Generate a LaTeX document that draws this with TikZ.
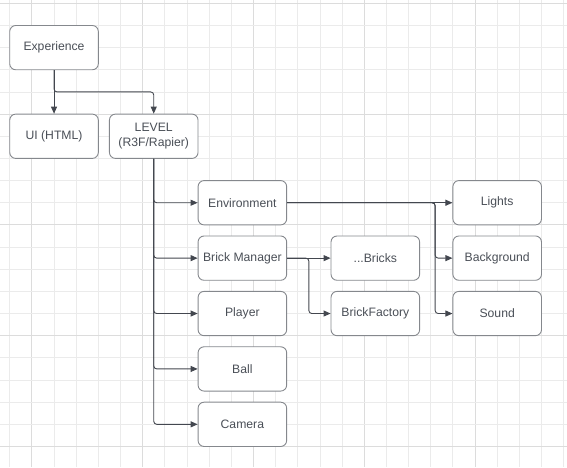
\documentclass[tikz,border=0pt]{standalone}
\usepackage{fontspec}
\setmainfont{Liberation Sans}
\usepackage{tikz}
\usetikzlibrary{arrows.meta}
\usetikzlibrary{positioning}

\definecolor{gridminor}{HTML}{EBEBEB}
\definecolor{gridmajor}{HTML}{DCDCDC}
\definecolor{boxline}{HTML}{85888D}
\definecolor{boxtext}{HTML}{4A4F57}
\definecolor{connline}{HTML}{43474F}

\tikzset{
  block/.style={draw=boxline, line width=0.9pt, fill=white, rounded corners=6pt,
    minimum width=88.6pt, minimum height=44.3pt, inner sep=0pt,
    text=boxtext, align=center, font=\fontsize{12.2}{15}\selectfont},
  conn/.style={draw=connline, line width=0.9pt, rounded corners=3pt,
    -{Triangle[length=7pt,width=6pt]}}
}

\begin{document}
\begin{tikzpicture}[x=22.16pt, y=-22.16pt]
  \useasboundingbox (-0.438,-0.149) rectangle (25.15,20.93);

  % grid
  \foreach \k in {0,...,25} {
    \pgfmathtruncatemacro{\m}{mod(\k,5)}
    \ifnum\m=1
      \draw [gridmajor, line width=0.9pt] (\k,-0.149) -- (\k,20.93);
    \else
      \draw [gridminor, line width=0.8pt] (\k,-0.149) -- (\k,20.93);
    \fi
  }
  \foreach \k in {0,...,20} {
    \pgfmathtruncatemacro{\m}{mod(\k,5)}
    \ifnum\m=0
      \draw [gridmajor, line width=0.9pt] (-0.438,\k) -- (25.15,\k);
    \else
      \draw [gridminor, line width=0.8pt] (-0.438,\k) -- (25.15,\k);
    \fi
  }

  % boxes
  \node [block] (exp) at (2, 2) {Experience};
  \node [block] (ui) at (2, 6) {UI (HTML)};
  \node [block] (lvl) at (6.5, 6) {LEVEL\\(R3F/Rapier)};

  \node [block] (env) at (10.5, 9) {Environment};
  \node [block] (bm) at (10.5, 11.5) {Brick Manager};
  \node [block] (player) at (10.5, 14) {Player};
  \node [block] (ball) at (10.5, 16.5) {Ball};
  \node [block] (cam) at (10.5, 19) {Camera};

  \node [block] (bricks) at (16.5, 11.5) {...Bricks};
  \node [block] (factory) at (16.5, 14) {BrickFactory};

  \node [block] (lights) at (22, 9) {Lights};
  \node [block] (bg) at (22, 11.5) {Background};
  \node [block] (sound) at (22, 14) {Sound};

  % junctions
  \coordinate (expj) at (2, 4);
  \coordinate (bmj) at (13.5, 11.5);
  \coordinate (envj) at (19.2, 9);

  % connectors
  \draw [conn] (exp.south) -- (ui.north);
  \draw [conn] (exp.south) -- (expj) -| (lvl.north);

  \foreach \n in {env, bm, player, ball, cam}
    \draw [conn] (lvl.south) |- (\n.west);

  \draw [conn] (bm.east) -- (bricks.west);
  \draw [conn] (bm.east) -- (bmj) |- (factory.west);

  \draw [conn] (env.east) -- (lights.west);
  \foreach \n in {bg, sound}
    \draw [conn] (env.east) -- (envj) |- (\n.west);
\end{tikzpicture}
\end{document}
